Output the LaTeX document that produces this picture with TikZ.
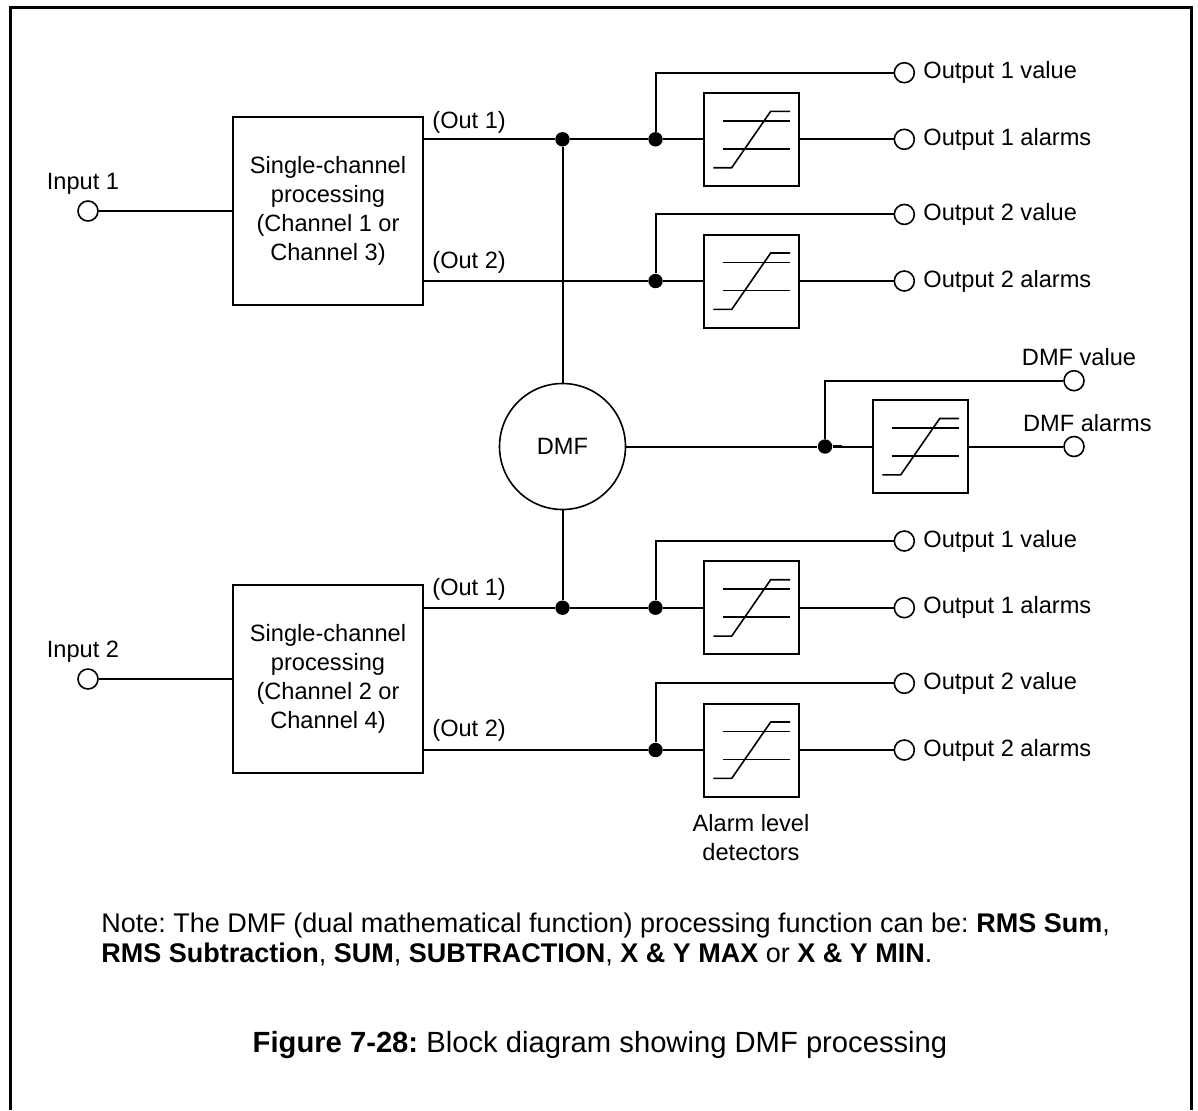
\documentclass[tikz,border=0pt]{standalone}
\usepackage{fontspec}
\setmainfont{Liberation Sans}
\frenchspacing
\begin{document}
\begin{tikzpicture}[x=0.5pt,y=-0.5pt,
  wire/.style={line width=1pt},
  lbl/.style={inner sep=0pt, font=\fontsize{11.8}{14.5}\selectfont},
  notetext/.style={inner sep=0pt, font=\fontsize{13.5}{15}\selectfont},
  captext/.style={inner sep=0pt, font=\fontsize{14.6}{17}\selectfont},
  block/.style={draw, line width=1pt, minimum width=95.3pt, minimum height=94pt,
    inner sep=0pt, align=center, font=\fontsize{11.8}{14.5}\selectfont},
  port/.style={draw, circle, line width=0.8pt, minimum size=10pt, inner sep=0pt, fill=white},
  dot/.style={circle, fill=black, minimum size=7.2pt, inner sep=0pt},
  dmfnode/.style={draw, circle, line width=0.8pt, minimum size=63pt, inner sep=0pt,
    font=\fontsize{11.8}{14.5}\selectfont},
  alarmbox/.style={draw, line width=1pt, minimum width=47.75pt, minimum height=46.5pt,
    inner sep=0pt, path picture={
      \begin{scope}[shift={(path picture bounding box.center)}, line width=0.8pt]
        \draw (-14.4pt,9.3pt) -- (19.25pt,9.3pt);
        \draw (-14.4pt,-4.7pt) -- (19.25pt,-4.7pt);
        \draw (-19.1pt,-14.2pt) -- (-9.9pt,-14.2pt) -- (9.6pt,14pt) -- (19.25pt,14pt);
      \end{scope}}},
]
\useasboundingbox (0,0) rectangle (1198,1110);

% outer frame, open at the bottom
\draw[line width=1.5pt] (10,1110) -- (10,7.3) -- (1191.5,7.3) -- (1191.5,1110);

% ---------------- channel pair 1 ----------------
\node[block] (b1) at (328,211) {Single-channel\\processing\\(Channel 1 or\\Channel 3)};
\node[port] (in1) at (88,211) {};
\node[lbl] (in1lbl) at (83,184) {Input 1};
\draw[wire] (in1) -- (b1);

\node[lbl, anchor=west] (o1lbl) at (432,122) {(Out 1)};
\node[lbl, anchor=west] (o2lbl) at (432,262) {(Out 2)};

\node[dot] (j1) at (562.5,139.3) {};
\node[dot] (s1) at (655.5,139.3) {};
\node[alarmbox] (a1) at (751.5,139.3) {};
\node[port] (ov1) at (904.3,72.7) {};
\node[port] (oa1) at (904.3,139.3) {};
\node[lbl, anchor=west] (ov1lbl) at (923,72.7) {Output 1 value};
\node[lbl, anchor=west] (oa1lbl) at (923,139.3) {Output 1 alarms};
\draw[wire] (b1.east |- j1) -- (j1) -- (s1) -- (a1);
\draw[wire] (s1) |- (ov1);
\draw[wire] (a1) -- (oa1);

\node[dot] (s2) at (655.5,281) {};
\node[alarmbox] (a2) at (751.5,281) {};
\node[port] (ov2) at (904.3,214.4) {};
\node[port] (oa2) at (904.3,281) {};
\node[lbl, anchor=west] (ov2lbl) at (923,214.4) {Output 2 value};
\node[lbl, anchor=west] (oa2lbl) at (923,281) {Output 2 alarms};
\draw[wire] (b1.east |- s2) -- (s2) -- (a2);
\draw[wire] (s2) |- (ov2);
\draw[wire] (a2) -- (oa2);

% ---------------- dual mathematical function ----------------
\node[dmfnode] (dmf) at (562.5,446.5) {DMF};
\node[dot] (dd) at (825,446.5) {};
\node[alarmbox] (ad) at (920.5,446.5) {};
\node[port] (ovd) at (1074,380.7) {};
\node[port] (oad) at (1074,446.5) {};
\node[lbl] (ovdlbl) at (1079,357) {DMF value};
\node[lbl, anchor=west] (oadlbl) at (1022.7,423) {DMF alarms};
\draw[wire] (dmf) -- (dd) -- (ad);
\coordinate (ddstub) at (841.7,446.5);
\draw[line width=1.4pt] (dd) -- (ddstub);
\draw[wire] (dd) |- (ovd);
\draw[wire] (ad) -- (oad);

% ---------------- channel pair 2 ----------------
\node[block] (b2) at (328,679) {Single-channel\\processing\\(Channel 2 or\\Channel 4)};
\node[port] (in2) at (88,679) {};
\node[lbl] (in2lbl) at (83,652) {Input 2};
\draw[wire] (in2) -- (b2);

\node[lbl, anchor=west] (o3lbl) at (432,589) {(Out 1)};
\node[lbl, anchor=west] (o4lbl) at (432,730) {(Out 2)};

\node[dot] (j3) at (562.5,607.7) {};
\node[dot] (s3) at (655.5,607.7) {};
\node[alarmbox] (a3) at (751.5,607.7) {};
\node[port] (ov3) at (904.3,541) {};
\node[port] (oa3) at (904.3,607.7) {};
\node[lbl, anchor=west] (ov3lbl) at (923,541) {Output 1 value};
\node[lbl, anchor=west] (oa3lbl) at (923,607.7) {Output 1 alarms};
\draw[wire] (b2.east |- j3) -- (j3) -- (s3) -- (a3);
\draw[wire] (s3) |- (ov3);
\draw[wire] (a3) -- (oa3);

\node[dot] (s4) at (655.5,750) {};
\node[alarmbox] (a4) at (751.5,750) {};
\node[port] (ov4) at (904.3,683.3) {};
\node[port] (oa4) at (904.3,750) {};
\node[lbl, anchor=west] (ov4lbl) at (923,683.3) {Output 2 value};
\node[lbl, anchor=west] (oa4lbl) at (923,750) {Output 2 alarms};
\draw[wire] (b2.east |- s4) -- (s4) -- (a4);
\draw[wire] (s4) |- (ov4);
\draw[wire] (a4) -- (oa4);

% DMF inputs taken from both Out 1 lines
\draw[wire] (j1) -- (dmf);
\draw[wire] (dmf) -- (j3);

\node[lbl, align=center] (detlbl) at (751,838) {Alarm level\\detectors};

% ---------------- note and caption ----------------
\node[notetext, anchor=base west] (note1) at (101,932.6)
  {Note: The DMF (dual mathematical function) processing function can be: \textbf{RMS Sum},};
\node[notetext, anchor=base west] (note2) at (101,962.6)
  {\textbf{RMS Subtraction}, \textbf{SUM}, \textbf{SUBTRACTION}, \textbf{X \& Y MAX} or \textbf{X \& Y MIN}.};
\node[captext, anchor=base] (caption) at (600,1052.4)
  {\textbf{Figure 7-28:} Block diagram showing DMF processing};
\end{tikzpicture}
\end{document}
